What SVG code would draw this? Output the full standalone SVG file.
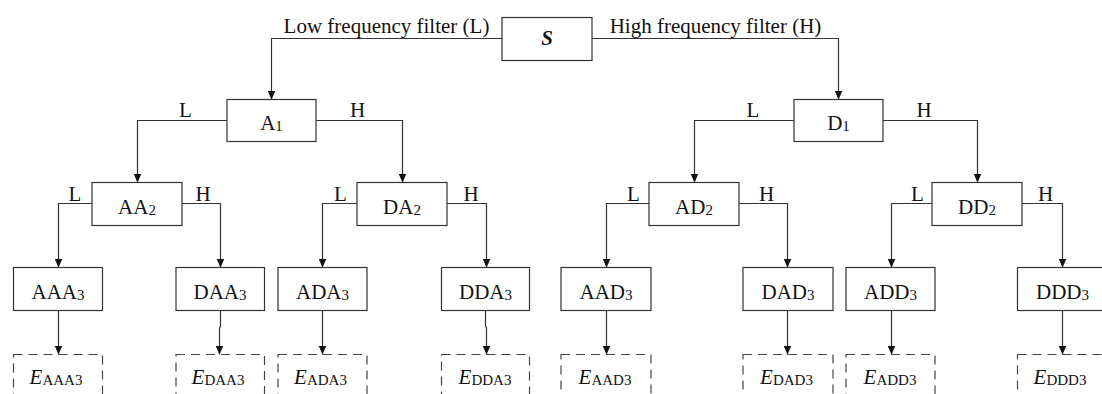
<svg xmlns="http://www.w3.org/2000/svg" width="1102" height="394" viewBox="0 0 1102 394">
  <style>
    .box { fill: #fff; stroke: #333; stroke-width: 1.2; }
    .dash { fill: none; stroke: #444; stroke-width: 1.2; stroke-dasharray: 9 6; }
    .wire { fill: none; stroke: #333; stroke-width: 1.2; }
    .arrow { marker-end: url(#head); }
    text { font-family: "Liberation Serif", "Times New Roman", serif; font-size: 21px; fill: #111; }
    .lbl { text-anchor: middle; }
    .sub { font-size: 15px; }
    .it { font-style: italic; }
  </style>
  <defs>
    <marker id="head" markerUnits="userSpaceOnUse" markerWidth="9" markerHeight="9" refX="9" refY="4" orient="auto" viewBox="0 0 9 8">
      <path d="M0,0 L9,4 L0,8 Z" fill="#111"/>
    </marker>
  </defs>

  <!-- connectors: filter branches and outputs -->
  <g id="connectors">
    <!-- level 0 -> 1 -->
    <path class="wire arrow" d="M502,38.5 H271.5 V99.5"/>
    <path class="wire arrow" d="M592,38.5 H838.5 V99.5"/>
    <!-- level 1 -> 2 -->
    <path class="wire arrow" d="M227,120.5 H137.5 V182.5"/>
    <path class="wire arrow" d="M316,120.5 H402.5 V182.5"/>
    <path class="wire arrow" d="M794,120.5 H694.5 V182.5"/>
    <path class="wire arrow" d="M883,120.5 H977.5 V182.5"/>
    <!-- level 2 -> 3 -->
    <path class="wire arrow" d="M92,203.5 H58.5 V267.5"/>
    <path class="wire arrow" d="M182,203.5 H220.5 V267.5"/>
    <path class="wire arrow" d="M357,203.5 H322.5 V267.5"/>
    <path class="wire arrow" d="M447,203.5 H486.5 V267.5"/>
    <path class="wire arrow" d="M649,203.5 H606.5 V267.5"/>
    <path class="wire arrow" d="M739,203.5 H787.5 V267.5"/>
    <path class="wire arrow" d="M932,203.5 H891.5 V267.5"/>
    <path class="wire arrow" d="M1022,203.5 H1062.5 V267.5"/>
    <!-- level 3 -> energy -->
    <path class="wire arrow" d="M58.5,310.5 V354.5"/>
    <path class="wire arrow" d="M220.5,310.5 V326 L219.5,328 V354.5"/>
    <path class="wire arrow" d="M322.5,310.5 V354.5"/>
    <path class="wire arrow" d="M485.5,310.5 V326 L486.5,328 V354.5"/>
    <path class="wire arrow" d="M606.5,310.5 V354.5"/>
    <path class="wire arrow" d="M787.5,310.5 V354.5"/>
    <path class="wire arrow" d="M891.5,310.5 V354.5"/>
    <path class="wire arrow" d="M1062.5,310.5 V354.5"/>

    <!-- branch labels -->
    <text class="lbl" x="386.5" y="33">Low frequency filter (L)</text>
    <text class="lbl" x="715.5" y="33">High frequency filter (H)</text>
    <text class="lbl" x="185.5" y="117">L</text>
    <text class="lbl" x="357.5" y="117">H</text>
    <text class="lbl" x="753" y="117">L</text>
    <text class="lbl" x="924" y="117">H</text>
    <text class="lbl" x="75" y="201">L</text>
    <text class="lbl" x="203" y="201">H</text>
    <text class="lbl" x="340.5" y="201">L</text>
    <text class="lbl" x="471" y="201">H</text>
    <text class="lbl" x="633.5" y="201">L</text>
    <text class="lbl" x="766.5" y="201">H</text>
    <text class="lbl" x="917.5" y="201">L</text>
    <text class="lbl" x="1045.5" y="201">H</text>
  </g>

  <!-- signal -->
  <g id="S">
    <rect class="box" x="502" y="17.5" width="90" height="43"/>
    <text class="lbl it" x="547" y="45" font-weight="bold">S</text>
  </g>

  <!-- level 1 -->
  <g id="A1">
    <rect class="box" x="227" y="99.5" width="89" height="42"/>
    <text class="lbl" x="271.5" y="130">A<tspan class="sub" dy="1">1</tspan></text>
  </g>
  <g id="D1">
    <rect class="box" x="794" y="99.5" width="89" height="42"/>
    <text class="lbl" x="838.5" y="130">D<tspan class="sub" dy="1">1</tspan></text>
  </g>

  <!-- level 2 -->
  <g id="AA2">
    <rect class="box" x="92" y="182.5" width="90" height="43"/>
    <text class="lbl" x="137" y="213.5">AA<tspan class="sub" dy="1">2</tspan></text>
  </g>
  <g id="DA2">
    <rect class="box" x="357" y="182.5" width="90" height="43"/>
    <text class="lbl" x="402" y="213.5">DA<tspan class="sub" dy="1">2</tspan></text>
  </g>
  <g id="AD2">
    <rect class="box" x="649" y="182.5" width="90" height="43"/>
    <text class="lbl" x="694" y="213.5">AD<tspan class="sub" dy="1">2</tspan></text>
  </g>
  <g id="DD2">
    <rect class="box" x="932" y="182.5" width="90" height="43"/>
    <text class="lbl" x="977" y="213.5">DD<tspan class="sub" dy="1">2</tspan></text>
  </g>

  <!-- level 3 -->
  <g id="AAA3">
    <rect class="box" x="13.5" y="267.5" width="89" height="43"/>
    <text class="lbl" x="58" y="299">AAA<tspan class="sub" dy="1">3</tspan></text>
  </g>
  <g id="DAA3">
    <rect class="box" x="176" y="267.5" width="88.5" height="43"/>
    <text class="lbl" x="220" y="299">DAA<tspan class="sub" dy="1">3</tspan></text>
  </g>
  <g id="ADA3">
    <rect class="box" x="278" y="267.5" width="89" height="43"/>
    <text class="lbl" x="322.5" y="299">ADA<tspan class="sub" dy="1">3</tspan></text>
  </g>
  <g id="DDA3">
    <rect class="box" x="441.5" y="267.5" width="88" height="43"/>
    <text class="lbl" x="485.5" y="299">DDA<tspan class="sub" dy="1">3</tspan></text>
  </g>
  <g id="AAD3">
    <rect class="box" x="561" y="267.5" width="90" height="43"/>
    <text class="lbl" x="606" y="299">AAD<tspan class="sub" dy="1">3</tspan></text>
  </g>
  <g id="DAD3">
    <rect class="box" x="743" y="267.5" width="90" height="43"/>
    <text class="lbl" x="788" y="299">DAD<tspan class="sub" dy="1">3</tspan></text>
  </g>
  <g id="ADD3">
    <rect class="box" x="846" y="267.5" width="89" height="43"/>
    <text class="lbl" x="890.5" y="299">ADD<tspan class="sub" dy="1">3</tspan></text>
  </g>
  <g id="DDD3">
    <rect class="box" x="1017.5" y="267.5" width="90" height="43"/>
    <text class="lbl" x="1062.5" y="299">DDD<tspan class="sub" dy="1">3</tspan></text>
  </g>

  <!-- energy of each terminal band -->
  <g id="E_AAA3">
    <rect class="dash" x="13.5" y="354.5" width="89" height="70"/>
    <text class="lbl" x="56" y="383.5"><tspan class="it">E</tspan><tspan class="sub" dy="1.5">AAA3</tspan></text>
  </g>
  <g id="E_DAA3">
    <rect class="dash" x="176" y="354.5" width="88.5" height="70"/>
    <text class="lbl" x="218" y="383.5"><tspan class="it">E</tspan><tspan class="sub" dy="1.5">DAA3</tspan></text>
  </g>
  <g id="E_ADA3">
    <rect class="dash" x="278" y="354.5" width="89" height="70"/>
    <text class="lbl" x="320.5" y="383.5"><tspan class="it">E</tspan><tspan class="sub" dy="1.5">ADA3</tspan></text>
  </g>
  <g id="E_DDA3">
    <rect class="dash" x="441.5" y="354.5" width="88" height="70"/>
    <text class="lbl" x="485" y="383.5"><tspan class="it">E</tspan><tspan class="sub" dy="1.5">DDA3</tspan></text>
  </g>
  <g id="E_AAD3">
    <rect class="dash" x="561" y="354.5" width="90" height="70"/>
    <text class="lbl" x="605" y="383.5"><tspan class="it">E</tspan><tspan class="sub" dy="1.5">AAD3</tspan></text>
  </g>
  <g id="E_DAD3">
    <rect class="dash" x="743" y="354.5" width="90" height="70"/>
    <text class="lbl" x="786.5" y="383.5"><tspan class="it">E</tspan><tspan class="sub" dy="1.5">DAD3</tspan></text>
  </g>
  <g id="E_ADD3">
    <rect class="dash" x="846" y="354.5" width="89" height="70"/>
    <text class="lbl" x="890" y="383.5"><tspan class="it">E</tspan><tspan class="sub" dy="1.5">ADD3</tspan></text>
  </g>
  <g id="E_DDD3">
    <rect class="dash" x="1017.5" y="354.5" width="90" height="70"/>
    <text class="lbl" x="1060" y="383.5"><tspan class="it">E</tspan><tspan class="sub" dy="1.5">DDD3</tspan></text>
  </g>
</svg>
